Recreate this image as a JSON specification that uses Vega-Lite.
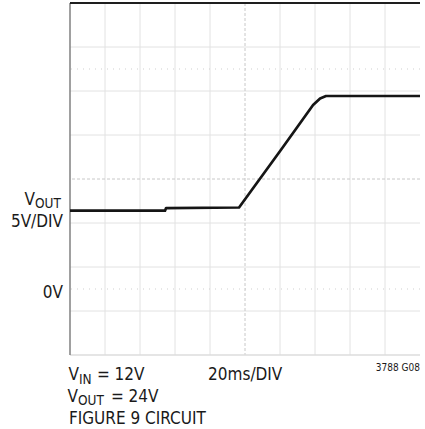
{
  "$schema": "https://vega.github.io/schema/vega-lite/v6.json",
  "width": 350,
  "height": 352,
  "autosize": {"type": "none"},
  "padding": {"left": 70, "top": 3, "right": 5, "bottom": 74},
  "config": {"view": {"stroke": null}, "text": {"font": "DejaVu Sans Condensed, Liberation Sans Narrow, Liberation Sans, sans-serif", "fill": "#1a1a1a", "baseline": "alphabetic", "align": "left"}},
  "datasets": {
    "trace": [
      {"t": 0, "v": 8.9}, {"t": 54.3, "v": 8.9}, {"t": 54.9, "v": 9.2}, {"t": 96.6, "v": 9.26},
      {"t": 121.1, "v": 15.97}, {"t": 129.7, "v": 18.35}, {"t": 138.9, "v": 20.91}, {"t": 142.9, "v": 21.65},
      {"t": 146.3, "v": 21.93}, {"t": 200, "v": 21.93}
    ],
    "vgrid": [{"t": 20}, {"t": 40}, {"t": 60}, {"t": 80}, {"t": 120}, {"t": 140}, {"t": 160}, {"t": 180}],
    "hgrid": [{"v": -2.5}, {"v": 2.5}, {"v": 7.5}, {"v": 17.5}, {"v": 22.5}, {"v": 27.5}],
    "cursor": [{"v": 0}, {"v": 25}],
    "vticks": [
      {"v": -6.5}, {"v": -5.5}, {"v": -4.5}, {"v": -3.5}, {"v": -1.5}, {"v": -0.5}, {"v": 0.5}, {"v": 1.5},
      {"v": 3.5}, {"v": 4.5}, {"v": 5.5}, {"v": 6.5}, {"v": 8.5}, {"v": 9.5}, {"v": 10.5}, {"v": 11.5},
      {"v": 13.5}, {"v": 14.5}, {"v": 15.5}, {"v": 16.5}, {"v": 18.5}, {"v": 19.5}, {"v": 20.5}, {"v": 21.5},
      {"v": 23.5}, {"v": 24.5}, {"v": 25.5}, {"v": 26.5}, {"v": 28.5}, {"v": 29.5}, {"v": 30.5}, {"v": 31.5}
    ],
    "hticks": [
      {"t": 4}, {"t": 8}, {"t": 12}, {"t": 16}, {"t": 24}, {"t": 28}, {"t": 32}, {"t": 36},
      {"t": 44}, {"t": 48}, {"t": 52}, {"t": 56}, {"t": 64}, {"t": 68}, {"t": 72}, {"t": 76},
      {"t": 84}, {"t": 88}, {"t": 92}, {"t": 96}, {"t": 104}, {"t": 108}, {"t": 112}, {"t": 116},
      {"t": 124}, {"t": 128}, {"t": 132}, {"t": 136}, {"t": 144}, {"t": 148}, {"t": 152}, {"t": 156},
      {"t": 164}, {"t": 168}, {"t": 172}, {"t": 176}, {"t": 184}, {"t": 188}, {"t": 192}, {"t": 196}
    ],
    "labelsR": [
      {"text": "V", "t": -20, "v": 9.55},
      {"text": "5V/DIV", "t": -4, "v": 7.05},
      {"text": "0V", "t": -4, "v": -1.02},
      {"text": "V", "t": 5.1, "v": -10.34},
      {"text": "V", "t": 4.6, "v": -12.8}
    ],
    "labelsL": [
      {"text": "= 12V", "t": 15.4, "v": -10.34},
      {"text": "20ms/DIV", "t": 78.9, "v": -10.34},
      {"text": "= 24V", "t": 23.4, "v": -12.8},
      {"text": "FIGURE 9 CIRCUIT", "t": -0.6, "v": -15.3}
    ],
    "subs": [
      {"text": "OUT", "t": -20, "v": 9.2},
      {"text": "IN", "t": 5.1, "v": -10.75},
      {"text": "OUT", "t": 4.6, "v": -13.15}
    ],
    "code": [{"text": "3788 G08", "t": 200, "v": -9.32}]
  },
  "encoding": {
    "x": {"field": "t", "type": "quantitative", "scale": {"domain": [0, 200], "nice": false, "zero": false}, "axis": null},
    "y": {"field": "v", "type": "quantitative", "scale": {"domain": [-7.5, 32.5], "nice": false, "zero": false}, "axis": null}
  },
  "layer": [
    {"data": {"name": "vgrid"}, "mark": {"type": "rule", "color": "#e2e2e2", "strokeWidth": 1}, "encoding": {"x": {"field": "t", "type": "quantitative"}, "y": null}},
    {"data": {"name": "hgrid"}, "mark": {"type": "rule", "color": "#e2e2e2", "strokeWidth": 1}, "encoding": {"y": {"field": "v", "type": "quantitative"}, "x": null}},
    {"data": {"name": "cursor"}, "mark": {"type": "rule", "color": "#cfcfcf", "strokeWidth": 1, "strokeDash": [1, 5]}, "encoding": {"y": {"field": "v", "type": "quantitative"}, "x": null}},
    {"data": {"values": [{"t": 100}]}, "mark": {"type": "rule", "color": "#c8c8c8", "strokeWidth": 1, "strokeDash": [3, 2]}, "encoding": {"x": {"field": "t", "type": "quantitative"}, "y": null}},
    {"data": {"values": [{"v": 12.5}]}, "mark": {"type": "rule", "color": "#c8c8c8", "strokeWidth": 1, "strokeDash": [3, 2]}, "encoding": {"y": {"field": "v", "type": "quantitative"}, "x": null}},
    {"data": {"name": "vticks"}, "mark": {"type": "tick", "orient": "horizontal", "size": 5, "thickness": 1, "color": "#bdbdbd"}, "encoding": {"x": {"datum": 100}, "y": {"field": "v", "type": "quantitative"}}},
    {"data": {"name": "hticks"}, "mark": {"type": "tick", "orient": "vertical", "size": 5, "thickness": 1, "color": "#bdbdbd"}, "encoding": {"y": {"datum": 12.5}, "x": {"field": "t", "type": "quantitative"}}},
    {"data": {"values": [{"v": -7.5}]}, "mark": {"type": "rule", "color": "#dddddd", "strokeWidth": 1.5}, "encoding": {"y": {"field": "v", "type": "quantitative"}, "x": null}},
    {"data": {"values": [{"t": 0}]}, "mark": {"type": "rule", "color": "#808080", "strokeWidth": 1.5}, "encoding": {"x": {"field": "t", "type": "quantitative"}, "y": null}},
    {"data": {"values": [{"v": 32.5}]}, "mark": {"type": "rule", "color": "#1e1e1e", "strokeWidth": 2}, "encoding": {"y": {"field": "v", "type": "quantitative"}, "x": null}},
    {"data": {"name": "trace"}, "mark": {"type": "line", "color": "#151515", "strokeWidth": 2.7, "strokeJoin": "round"}, "encoding": {}},
    {"data": {"name": "labelsR"}, "mark": {"type": "text", "fontSize": 17, "align": "right"}, "encoding": {"text": {"field": "text"}}},
    {"data": {"name": "labelsL"}, "mark": {"type": "text", "fontSize": 17}, "encoding": {"text": {"field": "text"}}},
    {"data": {"name": "subs"}, "mark": {"type": "text", "fontSize": 13.5}, "encoding": {"text": {"field": "text"}}},
    {"data": {"name": "code"}, "mark": {"type": "text", "fontSize": 10, "align": "right"}, "encoding": {"text": {"field": "text"}}}
  ]
}
